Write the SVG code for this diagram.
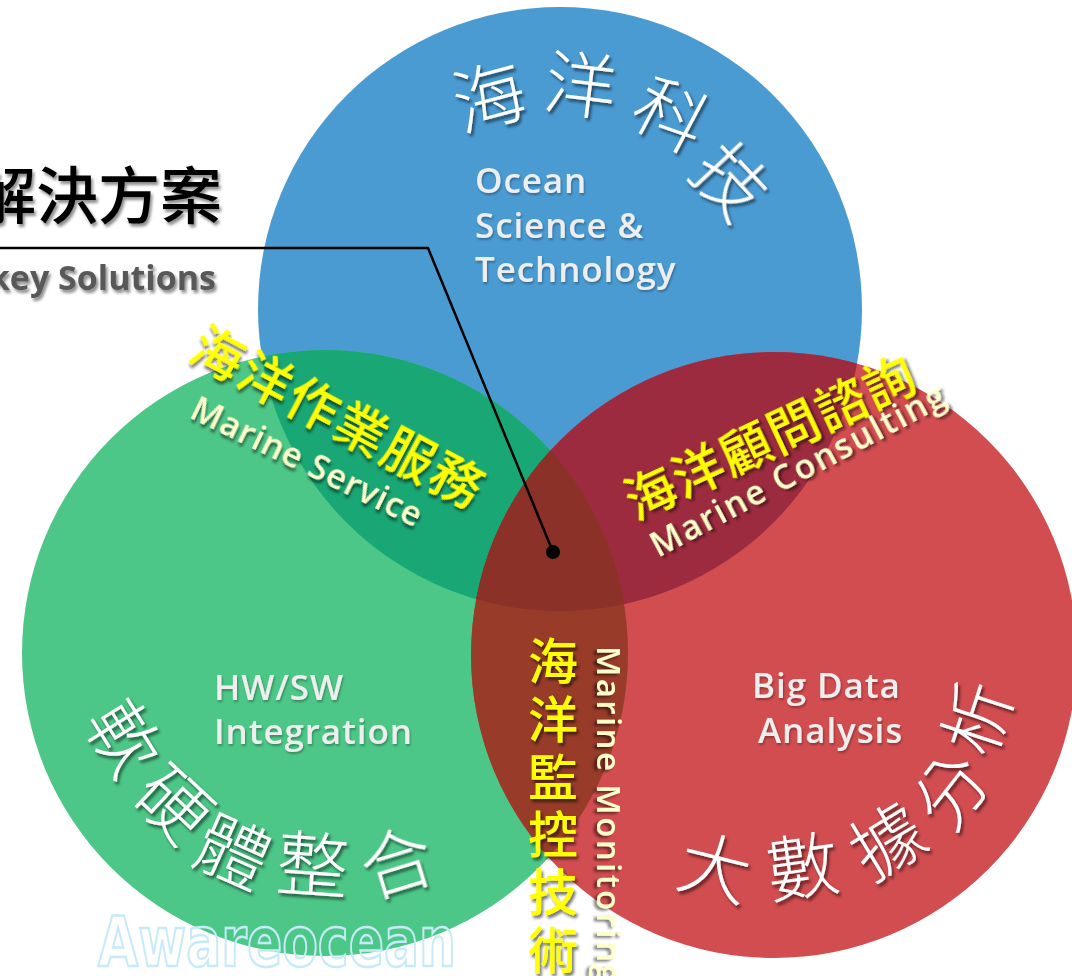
<svg xmlns="http://www.w3.org/2000/svg" width="1072" height="976" viewBox="0 0 1072 976">
<defs>
<style>
.zh{font-family:"Noto Sans CJK TC","Noto Sans CJK SC",sans-serif}
.arc{font-size:72px;fill:#fff;font-weight:300;text-anchor:middle;dominant-baseline:central;filter:url(#sh)}
.en{font-family:"Open Sans","Noto Sans",sans-serif;font-weight:600}
.lbl{font-size:35px;fill:#eeeeee;letter-spacing:0.9px;filter:url(#sh2)}
.yel{fill:#ffff00;font-weight:500;filter:url(#sh)}
.ltyel{fill:#ffffcc;filter:url(#sh)}
.sub{font-size:34px;font-weight:700;fill:#595959;filter:url(#shg)}
</style>
<filter id="sh" x="-20%" y="-20%" width="140%" height="140%"><feDropShadow dx="2" dy="3" stdDeviation="1.8" flood-color="#000" flood-opacity="0.55"/></filter>
<filter id="sh2" x="-20%" y="-20%" width="140%" height="140%"><feDropShadow dx="1" dy="2" stdDeviation="1.2" flood-color="#000" flood-opacity="0.3"/></filter>
<filter id="shg" x="-20%" y="-20%" width="140%" height="140%"><feDropShadow dx="2" dy="3" stdDeviation="1.5" flood-color="#000" flood-opacity="0.45"/></filter>
<clipPath id="cG"><circle cx="325" cy="653" r="303"/></clipPath>
<clipPath id="cR"><circle cx="774" cy="655" r="303"/></clipPath>
</defs>
<rect width="1072" height="976" fill="#fff"/>

<g id="circles">
<circle id="blue" cx="560" cy="309" r="302" fill="#4b9bd3"/>
<circle id="green" cx="325" cy="653" r="303" fill="#4dc787"/>
<circle id="red" cx="774" cy="655" r="303" fill="#d24d50"/>
<circle cx="560" cy="309" r="302" fill="#19a775" clip-path="url(#cG)"/>
<circle cx="560" cy="309" r="302" fill="#9c2b3f" clip-path="url(#cR)"/>
<circle cx="325" cy="653" r="303" fill="#983b29" clip-path="url(#cR)"/>
<g clip-path="url(#cG)"><circle cx="560" cy="309" r="302" fill="#8b3127" clip-path="url(#cR)"/></g>
</g>

<g id="watermark">
<text x="98" y="966" font-family="'DejaVu Sans','Liberation Sans',sans-serif" font-weight="700" font-size="70" textLength="358" lengthAdjust="spacingAndGlyphs" fill="none" stroke="#c6eaf8" stroke-width="2.5">Awareocean</text>
</g>

<g id="title">
<text x="222" y="219" class="zh" font-size="62" font-weight="500" fill="#000" text-anchor="end" filter="url(#shg)">解決方案</text>
<text x="216" y="290" class="en sub" text-anchor="end">key Solutions</text>
</g>

<g id="connectors">
<polyline points="0,248 428,248 553,552" fill="none" stroke="#000" stroke-width="2.5"/>
<circle cx="553" cy="552" r="7" fill="#000"/>
</g>

<g id="ocean-tech">
<g class="zh arc">
<text x="488" y="92" transform="rotate(-15 488 92)">海</text>
<text x="581" y="80" transform="rotate(7 581 80)">洋</text>
<text x="673" y="110" transform="rotate(28 673 110)">科</text>
<text x="735" y="177" transform="rotate(47 735 177)">技</text>
</g>
<text class="en lbl" x="475" y="193">Ocean</text>
<text class="en lbl" x="475" y="238">Science &amp;</text>
<text class="en lbl" x="475" y="282">Technology</text>
</g>

<g id="hw-sw">
<g class="zh arc">
<text x="128" y="735" transform="rotate(58 128 735)">軟</text>
<text x="177" y="800" transform="rotate(43 177 800)">硬</text>
<text x="235" y="847" transform="rotate(24 235 847)">體</text>
<text x="313" y="860" transform="rotate(4 313 860)">整</text>
<text x="395" y="857" transform="rotate(-17 395 857)">合</text>
</g>
<text class="en lbl" x="214" y="700">HW/SW</text>
<text class="en lbl" x="214" y="744">Integration</text>
</g>

<g id="big-data">
<g class="zh arc">
<text x="716" y="863" transform="rotate(14 716 863)">大</text>
<text x="802" y="862" transform="rotate(-8 802 862)">數</text>
<text x="885" y="837" transform="rotate(-31 885 837)">據</text>
<text x="947" y="788" transform="rotate(-52 947 788)">分</text>
<text x="973" y="716" transform="rotate(-72 973 716)">析</text>
</g>
<text class="en lbl" x="752" y="698">Big Data</text>
<text class="en lbl" x="758" y="743">Analysis</text>
</g>

<g id="marine-service">
<text class="zh yel" font-size="52" letter-spacing="2" dominant-baseline="central" transform="translate(197,338) rotate(28)">海洋作業服務</text>
<text class="en ltyel" font-size="34" letter-spacing="0.8" transform="translate(188,417) rotate(26)">Marine Service</text>
</g>

<g id="marine-consulting">
<text class="zh yel" font-size="51" letter-spacing="1.6" dominant-baseline="central" transform="translate(626,501) rotate(-25)">海洋顧問諮詢</text>
<text class="en ltyel" font-size="34" letter-spacing="1.8" transform="translate(658,558) rotate(-28)">Marine Consulting</text>
</g>

<g id="marine-monitoring">
<text class="zh yel" font-size="50" text-anchor="middle" dominant-baseline="central"><tspan x="553" y="658">海</tspan><tspan x="553" y="716">洋</tspan><tspan x="553" y="774">監</tspan><tspan x="553" y="831">控</tspan><tspan x="553" y="889">技</tspan><tspan x="553" y="947">術</tspan></text>
<text class="en ltyel" font-size="33" letter-spacing="2.4" transform="translate(597,646) rotate(90)">Marine Monitoring</text>
</g>
</svg>
